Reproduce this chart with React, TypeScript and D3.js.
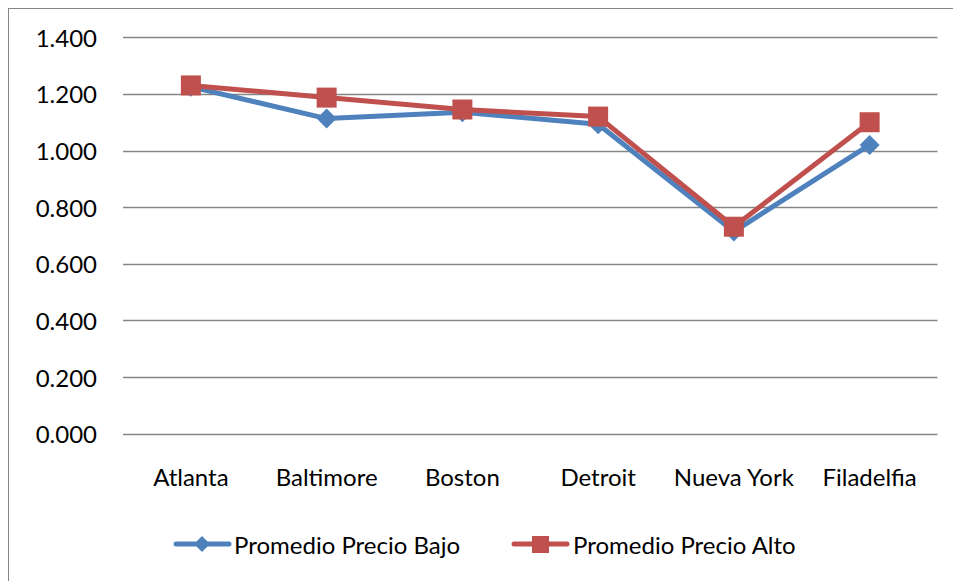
import React from "react";
import * as d3 from "d3";

const categories = ["Atlanta", "Baltimore", "Boston", "Detroit", "Nueva York", "Filadelfia"];
const bajo = [1.225, 1.113, 1.135, 1.093, 0.714, 1.02];
const alto = [1.23, 1.187, 1.145, 1.12, 0.731, 1.1];
const yTicks = [0, 0.2, 0.4, 0.6, 0.8, 1.0, 1.2, 1.4];
const seriesNames = ["Promedio Precio Bajo", "Promedio Precio Alto"];

const W = 953;
const H = 581;
const BLUE = "#4F81BD";
const RED = "#C0504D";
const FONT = "Lato, 'Open Sans', sans-serif";

export default function App() {
  const x = d3.scaleBand<string>().domain(categories).range([123, 937.5]);
  const y = d3.scaleLinear().domain([0, 1.4]).range([433.7, 37.3]);
  const cx = (c: string) => (x(c) as number) + x.bandwidth() / 2;
  const line = d3
    .line<number>()
    .x((_, i) => cx(categories[i]))
    .y((v) => y(v));
  const fmt = d3.format(".3f");

  const diamond = (px: number, py: number, r: number) =>
    `M${px},${py - r}L${px + r},${py}L${px},${py + r}L${px - r},${py}Z`;

  return (
    <svg
      width={W}
      height={H}
      style={{ position: "absolute", left: 0, top: 0, background: "#fff" }}
      fontFamily={FONT}
    >
      <rect x={8.5} y={8.5} width={980} height={620} fill="#fff" stroke="#868686" strokeWidth={1} />
      {yTicks.map((t) => (
        <g key={t}>
          <line x1={123} x2={937.5} y1={Math.round(y(t)) + 0.5} y2={Math.round(y(t)) + 0.5} stroke="#868686" strokeWidth={1.3} />
          <text x={97} y={y(t)} textAnchor="end" dominantBaseline="central" fontSize={24} fill="#000">
            {fmt(t)}
          </text>
        </g>
      ))}
      {categories.map((c) => (
        <text key={c} x={cx(c)} y={486} textAnchor="middle" fontSize={24} fill="#000">
          {c}
        </text>
      ))}
      <path d={line(bajo) || ""} fill="none" stroke={BLUE} strokeWidth={5} strokeLinejoin="round" />
      {bajo.map((v, i) => (
        <path key={i} d={diamond(cx(categories[i]), y(v), 10)} fill={BLUE} />
      ))}
      <path d={line(alto) || ""} fill="none" stroke={RED} strokeWidth={5} strokeLinejoin="round" />
      {alto.map((v, i) => (
        <rect key={i} x={cx(categories[i]) - 10} y={y(v) - 10} width={20} height={20} fill={RED} />
      ))}
      {/* legend */}
      <g>
        <line x1={176} x2={229} y1={544} y2={544} stroke={BLUE} strokeWidth={5} strokeLinecap="round" />
        <path d={diamond(202, 544, 8)} fill={BLUE} />
        <text x={234} y={544} dominantBaseline="central" fontSize={24} fill="#000">
          {seriesNames[0]}
        </text>
        <line x1={514} x2={567} y1={544} y2={544} stroke={RED} strokeWidth={5} strokeLinecap="round" />
        <rect x={532} y={536} width={17} height={17} fill={RED} />
        <text x={573} y={544} dominantBaseline="central" fontSize={24} fill="#000">
          {seriesNames[1]}
        </text>
      </g>
    </svg>
  );
}
